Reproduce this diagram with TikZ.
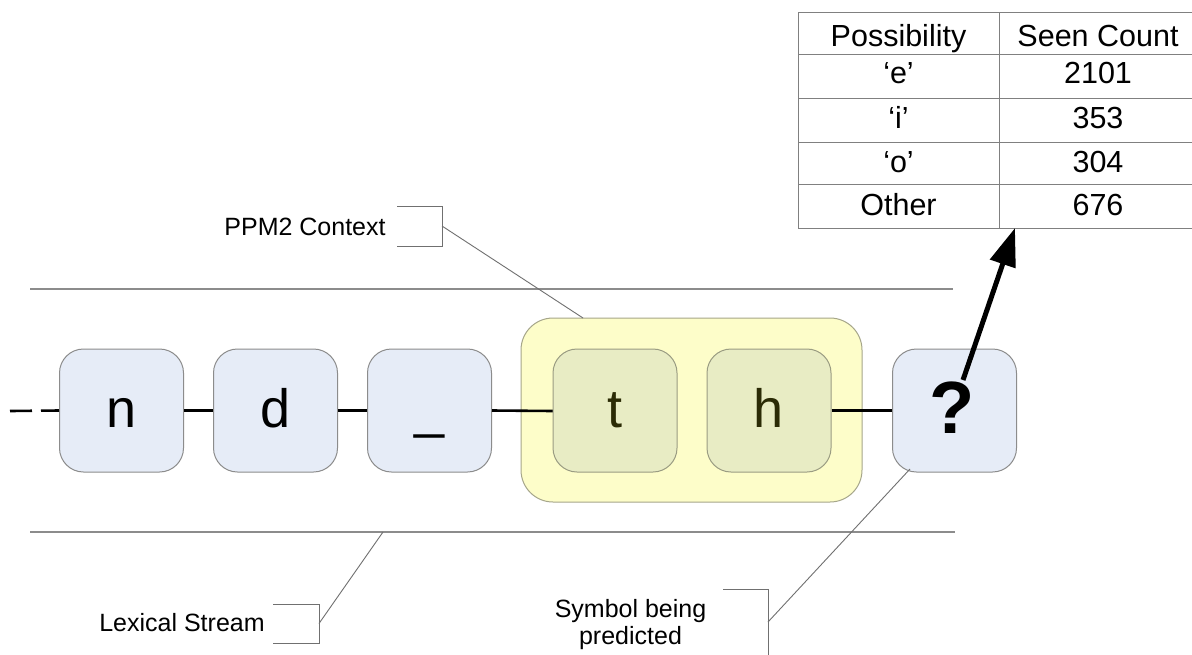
\documentclass[tikz,border=0pt]{standalone}
\usepackage{fontspec}
\setmainfont{Liberation Sans}
\usetikzlibrary{arrows.meta}
\definecolor{boxfill}{HTML}{E6ECF7}
\definecolor{boxline}{HTML}{8C8C8C}
\definecolor{ctxfill}{HTML}{FDFDC9}
\definecolor{ctxline}{HTML}{A6A68A}
\definecolor{innerfill}{HTML}{E8ECC4}
\definecolor{innerline}{HTML}{9A9C82}
\definecolor{innertext}{HTML}{2B2B05}
\definecolor{gridline}{HTML}{808080}
\definecolor{leadercol}{HTML}{707070}
\definecolor{streamcol}{HTML}{8C8C8C}
\begin{document}
\begin{tikzpicture}[x=1pt,y=-1pt,
  symbox/.style={draw=boxline, line width=1pt, fill=boxfill, rounded corners=24pt,
    minimum width=124pt, minimum height=123pt, inner sep=0pt},
  innerbox/.style={symbox, draw=innerline, fill=innerfill},
  ctxbox/.style={draw=ctxline, line width=1pt, fill=ctxfill, rounded corners=32pt,
    minimum width=341pt, minimum height=184pt, inner sep=0pt},
  letter/.style={font=\fontsize{54}{60}\selectfont, inner sep=0pt, anchor=base},
  qmark/.style={font=\fontsize{74}{80}\selectfont\bfseries, inner sep=0pt, anchor=base},
  link/.style={line width=2.6pt, black},
  streamline/.style={line width=1.5pt, streamcol},
  leaderline/.style={line width=0.9pt, leadercol},
  bracket/.style={line width=0.9pt, leadercol},
  lab/.style={font=\fontsize{25}{28}\selectfont, inner sep=0pt, anchor=base},
  cell/.style={font=\fontsize{30.5}{34}\selectfont, inner sep=0pt, anchor=base},
  grid/.style={line width=1pt, gridline},
  bigarrow/.style={line width=5pt, black, -{Triangle[length=38pt,width=26pt]}}]
\useasboundingbox (0,0) rectangle (1192,654);
\fill[white] (0,0) rectangle (1192,654);

% stream boundary lines
\draw[streamline] (30,289) coordinate (sTopL) -- (953,289) coordinate (sTopR);
\draw[streamline] (30,532) coordinate (sBotL) -- (955,532) coordinate (sBotR);

% context box
\node[ctxbox] (ctx) at (691.5,410) {};

% symbol boxes
\node[symbox] (bn) at (121.5,410.5) {};
\node[symbox] (bd) at (275.5,410.5) {};
\node[symbox] (bu) at (429.5,410.5) {};
\node[symbox] (bq) at (954.5,410.5) {};

% connectors
\coordinate (start) at (10,411);
\draw[link, dash pattern=on 22pt off 9pt] (start) -- (bn.west);
\draw[link] (bn.east) -- (bd.west);
\draw[link] (bd.east) -- (bu.west);
\coordinate (tw) at (553,411);
\draw[link] (bu.east) -- (tw);

\node[innerbox] (bt) at (615,410.5) {};
\node[innerbox] (bh) at (769,410.5) {};
\draw[link] (bh.east) -- (bq.west);

% letters
\node[letter] (ln) at (121.5,427) {n};
\node[letter] (ld) at (275.5,427) {d};
\node[letter] (lu) at (429.5,427) {\_};
\node[letter, text=innertext] (lt) at (615,427) {t};
\node[letter, text=innertext] (lh) at (769,427) {h};
\node[qmark] (lq) at (952,433) {?};

% table
\draw[grid] (798,12) rectangle (1197,228);
\draw[grid] (999,12) -- (999,228);
\foreach \yy in {54,98,142,184} \draw[grid] (798,\yy) -- (1197,\yy);
\node[cell] (h1) at (898.5,46) {Possibility};
\node[cell] (h2) at (1098,46) {Seen Count};
\node[cell] (r1a) at (898.5,83) {‘e’};
\node[cell] (r1b) at (1098,83) {2101};
\node[cell] (r2a) at (898.5,128) {‘i’};
\node[cell] (r2b) at (1098,128) {353};
\node[cell] (r3a) at (898.5,172) {‘o’};
\node[cell] (r3b) at (1098,172) {304};
\node[cell] (r4a) at (898.5,215) {Other};
\node[cell] (r4b) at (1098,215) {676};

% big arrow
\coordinate (arrS) at (963,380);
\coordinate (arrT) at (1015,228);
\draw[bigarrow] (arrS) -- (arrT);

% callout: PPM2 Context
\node[lab] (lppm) at (305,235) {PPM2 Context};
\draw[bracket] (397,206) -- (442,206) -- (442,246) -- (397,246);
\coordinate (ppmA) at (442,226);
\coordinate (ppmB) at (583,318);
\draw[leaderline] (ppmA) -- (ppmB);

% callout: Lexical Stream
\node[lab] (llex) at (182,631) {Lexical Stream};
\draw[bracket] (273,604) -- (319,604) -- (319,643) -- (273,643);
\coordinate (lexA) at (319,623.5);
\coordinate (lexB) at (383,532);
\draw[leaderline] (lexA) -- (lexB);

% callout: Symbol being predicted
\node[lab] (lsym1) at (630.5,617) {Symbol being};
\node[lab] (lsym2) at (630.5,644) {predicted};
\draw[bracket] (723,589) -- (768,589) -- (768,656);
\coordinate (symA) at (768,622);
\coordinate (symB) at (910,469);
\draw[leaderline] (symA) -- (symB);
\end{tikzpicture}
\end{document}
